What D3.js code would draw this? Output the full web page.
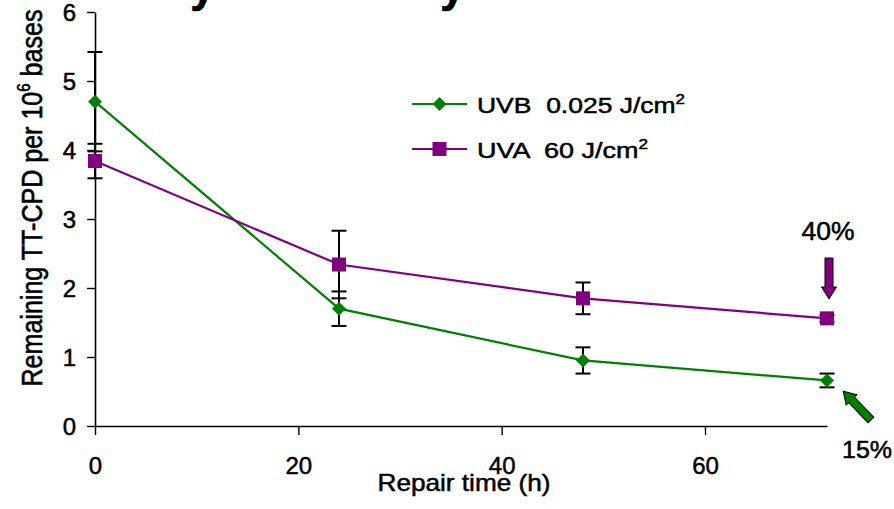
<!DOCTYPE html>
<html><head><meta charset="utf-8">
<script src="https://cdn.jsdelivr.net/npm/d3@7"></script>
<style>
html,body{margin:0;padding:0;background:#fff;}
svg text{font-family:"Liberation Sans",Arial,sans-serif;fill:#000;white-space:pre;stroke:#000;stroke-width:0.5px;}
</style></head>
<body>
<svg id="chart" width="894" height="509"></svg>
<script>
// ---- data ----
const times = [0, 24, 48, 72];
const uvbValues = [4.70, 1.70, 0.95, 0.66];
const uvbErrors = [0.72, 0.25, 0.19, 0.10];
const uvaValues = [3.84, 2.34, 1.85, 1.56];
const uvaErrors = [0.25, 0.49, 0.23, 0.05];
const xTicks = [0, 20, 40, 60];
const yTicks = [0, 1, 2, 3, 4, 5, 6];
const seriesNames = ["UVB  0.025 J/cm", "UVA  60 J/cm"];
const annotations = ["40%", "15%"];

const svg = d3.select("#chart");
const x = d3.scaleLinear().domain([0, 72]).range([95, 827]);
const y = d3.scaleLinear().domain([0, 6]).range([426, 12]);

// cut-off title fragments at the very top
svg.append("text").attr("x", 190).attr("y", 1).attr("font-size", 46).attr("font-weight", "bold").text("y");
svg.append("text").attr("x", 440).attr("y", 1).attr("font-size", 46).attr("font-weight", "bold").text("y");

// axes
const yAxis = svg.append("g").attr("transform", `translate(${x(0)},0)`)
  .call(d3.axisLeft(y).tickValues(yTicks).tickFormat(d3.format("d")).tickSize(8).tickSizeOuter(0).tickPadding(11));
const xAxis = svg.append("g").attr("transform", `translate(0,${y(0)})`)
  .call(d3.axisBottom(x).tickValues(xTicks).tickFormat(d3.format("d")).tickSize(9).tickSizeOuter(0));
[yAxis, xAxis].forEach(g => {
  g.select(".domain").attr("stroke", "#000").attr("stroke-width", 1.6);
  g.selectAll(".tick line").attr("stroke", "#000").attr("stroke-width", 1.4);
  g.selectAll(".tick text").attr("font-size", 24).attr("font-family", "Liberation Sans, Arial, sans-serif").attr("fill", "#000");
});
xAxis.selectAll(".tick text").attr("y", 48).attr("dy", 0);
yAxis.selectAll(".tick text").attr("dy", "0.36em");

// axis titles
svg.append("text").attr("x", 464).attr("y", 491).attr("text-anchor", "middle")
  .attr("font-size", 24).attr("textLength", 173).attr("lengthAdjust", "spacingAndGlyphs")
  .text("Repair time (h)");
const yl = svg.append("text").attr("text-anchor", "middle")
  .attr("transform", "translate(42,198) scale(1.17,1) rotate(-90)")
  .attr("font-size", 25).attr("textLength", 377).attr("lengthAdjust", "spacingAndGlyphs");
yl.append("tspan").text("Remaining TT-CPD per 10");
yl.append("tspan").attr("dy", -10).attr("font-size", 15).text("6");
yl.append("tspan").attr("dy", 10).text(" bases");

const series = [
  {name: seriesNames[0], vals: uvbValues, errs: uvbErrors, color: "#008000", shape: "diamond"},
  {name: seriesNames[1], vals: uvaValues, errs: uvaErrors, color: "#800080", shape: "square"}
];

const line = d3.line().x(d => x(d[0])).y(d => y(d[1]));
series.forEach(s => {
  svg.append("path").datum(times.map((t, i) => [t, s.vals[i]]))
    .attr("d", line).attr("fill", "none").attr("stroke", s.color).attr("stroke-width", 2.2);
});

// error bars
series.forEach(s => {
  const g = svg.append("g").attr("stroke", "#000").attr("stroke-width", 2);
  times.forEach((t, i) => {
    const cx = x(t), top = y(s.vals[i] + s.errs[i]), bot = y(s.vals[i] - s.errs[i]);
    g.append("line").attr("x1", cx).attr("x2", cx).attr("y1", top).attr("y2", bot);
    g.append("line").attr("x1", cx - 7.5).attr("x2", cx + 7.5).attr("y1", top).attr("y2", top);
    g.append("line").attr("x1", cx - 7.5).attr("x2", cx + 7.5).attr("y1", bot).attr("y2", bot);
  });
});

function marker(g, shape, cx, cy, color) {
  if (shape === "diamond") {
    g.append("path").attr("d", `M${cx},${cy-7}L${cx+7},${cy}L${cx},${cy+7}L${cx-7},${cy}Z`).attr("fill", color);
  } else {
    g.append("rect").attr("x", cx - 7).attr("y", cy - 7).attr("width", 14).attr("height", 14).attr("fill", color);
  }
}
series.forEach(s => {
  const g = svg.append("g");
  times.forEach((t, i) => marker(g, s.shape, x(t), y(s.vals[i]), s.color));
});

// legend
const legY = [104, 149];
const legW = [208, 171];
series.forEach((s, i) => {
  svg.append("line").attr("x1", 412).attr("x2", 467).attr("y1", legY[i]).attr("y2", legY[i])
    .attr("stroke", s.color).attr("stroke-width", 2.2);
  marker(svg, s.shape, 439.5, legY[i], s.color);
  const t = svg.append("text").attr("x", 477).attr("y", legY[i] + 9).attr("font-size", 22)
    .attr("textLength", legW[i]).attr("lengthAdjust", "spacingAndGlyphs");
  t.append("tspan").text(s.name);
  t.append("tspan").attr("dy", -9).attr("font-size", 14).text("2");
});

// annotations
svg.append("text").attr("x", 828).attr("y", 240).attr("text-anchor", "middle").attr("font-size", 25)
  .attr("textLength", 53).attr("lengthAdjust", "spacingAndGlyphs").text(annotations[0]);
svg.append("text").attr("x", 867).attr("y", 458).attr("text-anchor", "middle").attr("font-size", 24)
  .attr("textLength", 50).attr("lengthAdjust", "spacingAndGlyphs").text(annotations[1]);

// arrows (local shape: tail at 0, tip pointing +x)
function arrow(tx, ty, len, angle, color) {
  const sw = 4, hw = 7.5, hl = 12;
  const pts = [[0, -sw], [len - hl, -sw], [len - hl, -hw], [len, 0], [len - hl, hw], [len - hl, sw], [0, sw]];
  svg.append("path").attr("d", "M" + pts.map(p => p.join(",")).join("L") + "Z")
    .attr("transform", `translate(${tx},${ty}) rotate(${angle})`)
    .attr("fill", color).attr("stroke", "#000").attr("stroke-width", 1);
}
arrow(829, 258, 41, 90, "#800080");
arrow(871, 420, 40, -134, "#008000");
</script>
</body></html>
